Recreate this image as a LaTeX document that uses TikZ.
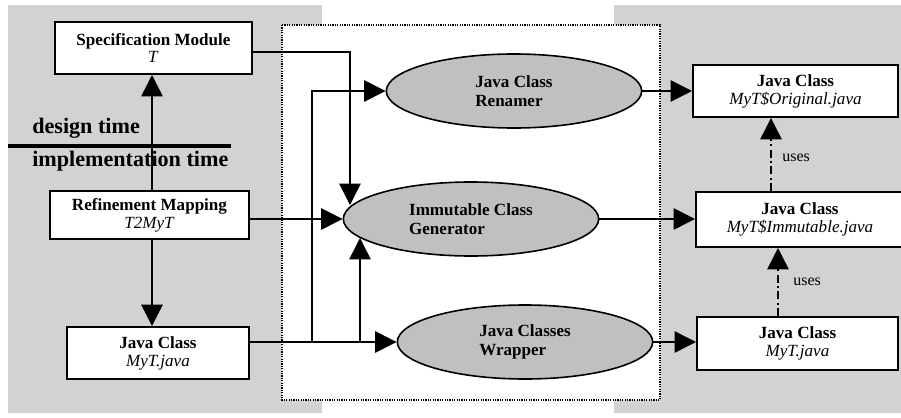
\documentclass[tikz,border=0pt]{standalone}
\usepackage{fontspec}
\setmainfont{Liberation Serif}
\usetikzlibrary{arrows.meta,shapes.geometric,calc}

\definecolor{bgdots}{RGB}{210,210,210}
\definecolor{ellfill}{RGB}{192,192,192}

\begin{document}
\begin{tikzpicture}[x=0.75pt,y=-0.75pt,
  box/.style={draw,line width=1.5pt,fill=white,inner sep=0pt,align=center,
    font=\fontsize{12.8}{13.4}\selectfont},
  proc/.style={ellipse,draw,line width=1.2pt,fill=ellfill,inner sep=0pt,align=left,
    font=\fontsize{12.8}{14.2}\selectfont\bfseries,minimum width=191.5pt,minimum height=55.5pt},
  arr/.style={line width=1.1pt,-{Triangle[length=16pt,width=16pt]}},
  usesarr/.style={arr,dash pattern=on 6pt off 2.5pt on 1.5pt off 2.5pt},
  phase/.style={anchor=base west,inner sep=0pt,font=\fontsize{16.6}{20}\selectfont\bfseries},
  uselbl/.style={anchor=west,inner sep=0pt,font=\fontsize{12}{14}\selectfont}]

\useasboundingbox (0,0) rectangle (901,418);

% shaded design / output areas
\fill[bgdots] (8,5) rectangle (322,413);
\fill[bgdots] (614,5) rectangle (901,413);

% tool chain frame
\draw[fill=white,line width=0.9pt,dash pattern=on 0.9pt off 0.9pt] (282,25) rectangle (660,400);

% design / implementation side
\node[box,minimum width=147.75pt,minimum height=39pt] (spec) at (153.5,48)
  {\textbf{Specification Module}\\\textit{T}};
\node[box,minimum width=149.25pt,minimum height=36pt] (ref) at (149.5,215)
  {\textbf{Refinement Mapping}\\\textit{T2MyT}};
\node[box,minimum width=136.5pt,minimum height=39pt] (jl) at (158,353)
  {\textbf{Java Class}\\\textit{MyT.java}};

\node[phase] (dt) at (32,133) {design time};
\node[phase] (it) at (32,166) {implementation time};
\draw[line width=3pt] (8,146) -- (231,146);

% processing steps
\node[proc] (ren) at (514,91) {Java Class\\Renamer};
\node[proc] (imm) at (471,219) {Immutable Class\\Generator};
\node[proc] (wr) at (525,342) {Java Classes\\Wrapper};

% generated classes
\node[box,minimum width=153.75pt,minimum height=39pt] (orig) at (795.5,91)
  {\textbf{Java Class}\\\textit{MyT\$Original.java}};
\node[box,minimum width=156pt,minimum height=41.25pt] (immb) at (800,219.5)
  {\textbf{Java Class}\\\textit{MyT\$Immutable.java}};
\node[box,minimum width=150.75pt,minimum height=39.75pt] (myt) at (797.5,343.5)
  {\textbf{Java Class}\\\textit{MyT.java}};

% connectors on the left
\coordinate (vx) at (152,0);
\draw[arr] (ref.north -| vx) -- (spec.south -| vx);
\draw[arr] (ref.south -| vx) -- (jl.north -| vx);

\coordinate (sturn) at (350,52);
\path (imm.center) ++(-121,-14) coordinate (immtop);
\draw[arr] (spec.east |- sturn) -- (sturn) -- (immtop);

\draw[arr] (ref.east |- imm.west) -- (imm.west);
\draw[arr] (jl.east |- wr.west) -- (wr.west);

\coordinate (b1) at (312,0);
\coordinate (b2) at (360,0);
\path (imm.center) ++(-111,19) coordinate (immbot);
\draw[arr] (b1 |- wr.west) |- (ren.west);
\draw[arr] (b2 |- wr.west) -- (immbot);

% connectors on the right
\draw[arr] (ren.east) -- (orig.west |- ren.east);
\draw[arr] (imm.east) -- (immb.west |- imm.east);
\draw[arr] (wr.east) -- (myt.west |- wr.east);

\coordinate (u1) at (771,0);
\coordinate (u2) at (778,0);
\draw[usesarr] (immb.north -| u1) -- (orig.south -| u1)
  node[uselbl,pos=0.45,xshift=8pt] {uses};
\draw[usesarr] (myt.north -| u2) -- (immb.south -| u2)
  node[uselbl,pos=0.5,xshift=11pt] {uses};
\end{tikzpicture}
\end{document}
